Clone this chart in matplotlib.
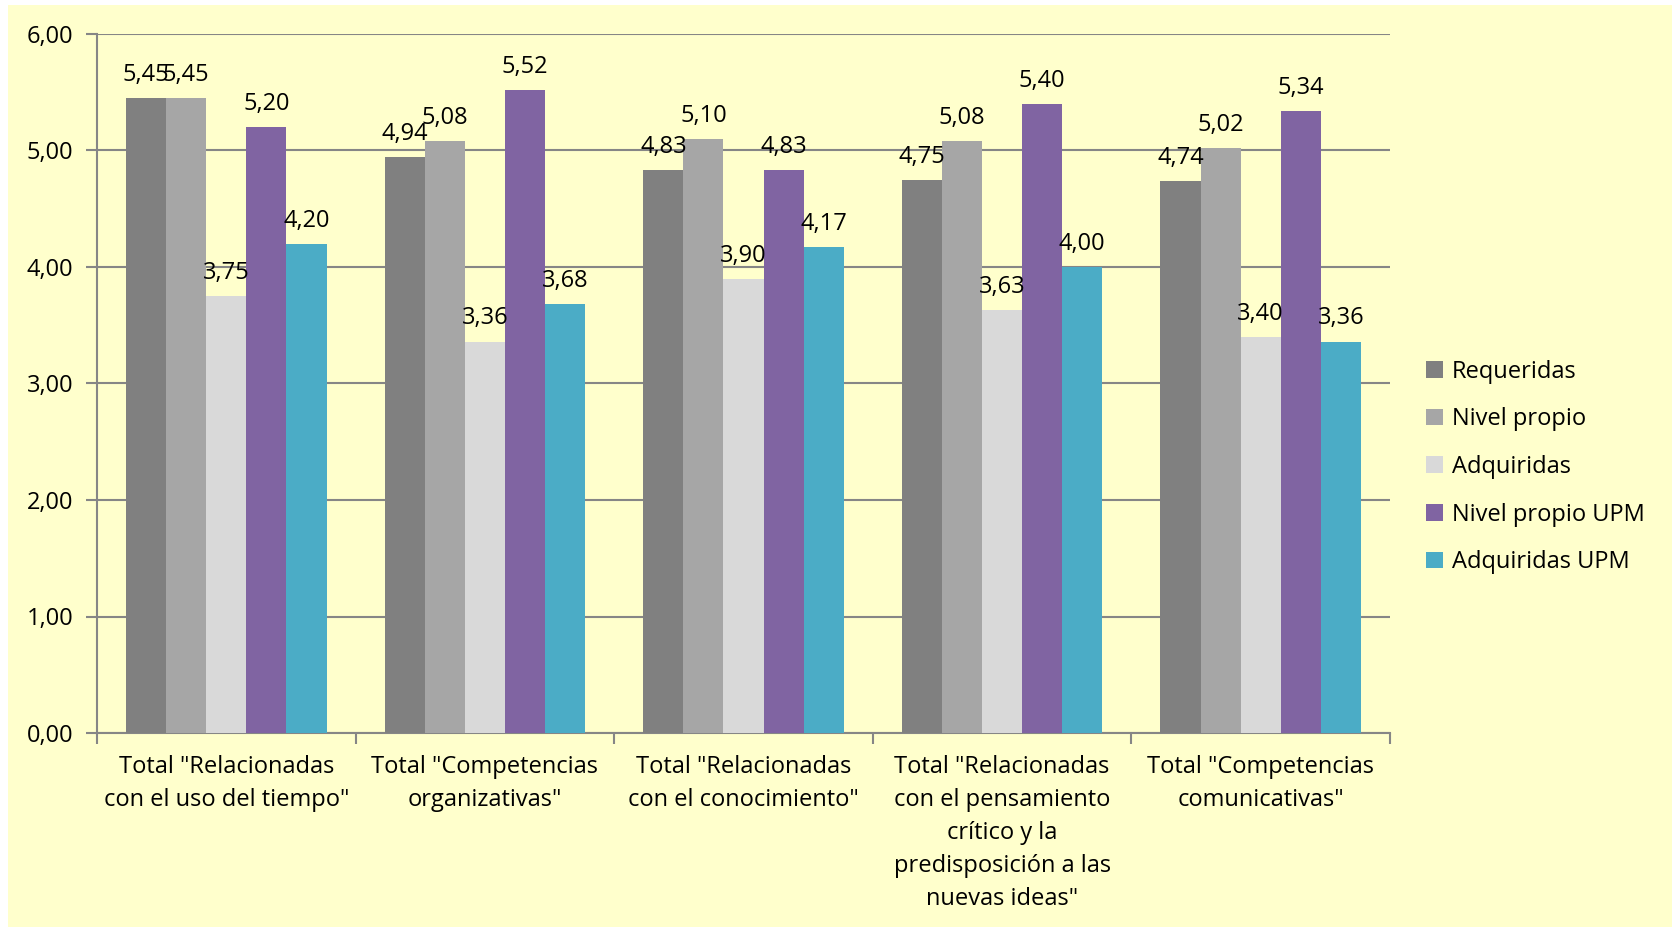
import numpy as np
import matplotlib
matplotlib.use("Agg")
import matplotlib.pyplot as plt
from matplotlib.patches import Rectangle

plt.rcParams['font.family'] = ['Open Sans', 'DejaVu Sans']

# Datos
categorias = ['Total "Relacionadas\ncon el uso del tiempo"',
              'Total "Competencias\norganizativas"',
              'Total "Relacionadas\ncon el conocimiento"',
              'Total "Relacionadas\ncon el pensamiento\ncrítico y la\npredisposición a las\nnuevas ideas"',
              'Total "Competencias\ncomunicativas"']
series = ['Requeridas', 'Nivel propio', 'Adquiridas', 'Nivel propio UPM', 'Adquiridas UPM']
requeridas = [5.45, 4.94, 4.83, 4.75, 4.74]
nivel_propio = [5.45, 5.08, 5.10, 5.08, 5.02]
adquiridas = [3.75, 3.36, 3.90, 3.63, 3.40]
nivel_propio_upm = [5.20, 5.52, 4.83, 5.40, 5.34]
adquiridas_upm = [4.20, 3.68, 4.17, 4.00, 3.36]
valores = [requeridas, nivel_propio, adquiridas, nivel_propio_upm, adquiridas_upm]
colores = ['#808080', '#A6A6A6', '#D9D9D9', '#8064A2', '#4BACC6']

fig = plt.figure(figsize=(16.72, 9.27), dpi=100, facecolor='white')
# fondo amarillo
fig.patches.append(Rectangle((8 / 1672, 0), 1, (927 - 5) / 927, transform=fig.transFigure,
                             facecolor='#FFFFCC', edgecolor='none', zorder=-10))
ax = fig.add_axes([97 / 1672, 1 - 733 / 927, (1390 - 97) / 1672, (733 - 34) / 927])
ax.set_facecolor('none')

x = np.arange(len(categorias))
ancho = 0.155
for i, (nombre, vals, c) in enumerate(zip(series, valores, colores)):
    pos = x + (i - 2) * ancho
    bars = ax.bar(pos, vals, ancho, color=c, label=nombre, zorder=3)
    for b, v in zip(bars, vals):
        ax.annotate(f'{v:.2f}'.replace('.', ','), (b.get_x() + b.get_width() / 2, v),
                    xytext=(0, 8), textcoords='offset points', ha='center', va='bottom',
                    fontsize=17, zorder=4)

ax.set_ylim(0, 6)
ax.set_xlim(-0.5, len(categorias) - 0.5)
ax.set_yticks(np.arange(0, 7, 1))
ax.set_yticklabels([f'{v:.2f}'.replace('.', ',') for v in np.arange(0, 7, 1)], fontsize=17)
ax.yaxis.grid(True, color='#868686', linewidth=1.5, zorder=0)
ax.set_xticks(x)
ax.set_xticklabels(categorias, fontsize=17, linespacing=1.5)
ax.set_xticks(np.arange(-0.5, len(categorias)), minor=True)
ax.tick_params(axis='x', which='major', length=0, pad=16)
ax.tick_params(axis='x', which='minor', length=8, width=1.5, color='#868686', direction='out')
ax.tick_params(axis='y', length=8, width=1.5, color='#868686', pad=9)
for s in ['top', 'right']:
    ax.spines[s].set_visible(False)
for s in ['left', 'bottom']:
    ax.spines[s].set_color('#868686')
    ax.spines[s].set_linewidth(1.5)

fig.legend(loc='center left', bbox_to_anchor=(1405 / 1672, 1 - 467 / 927), frameon=False,
           fontsize=17, handlelength=0.7, handleheight=0.7, handletextpad=0.4,
           labelspacing=1.0)

fig.savefig('out.png', dpi=100, facecolor='white')
